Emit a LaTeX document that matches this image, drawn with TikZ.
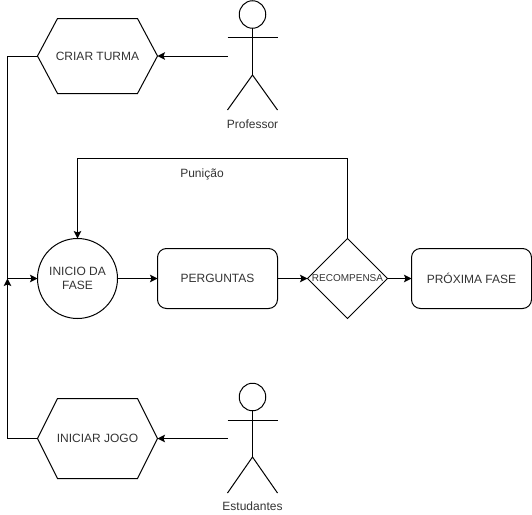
\documentclass[tikz,border=0pt]{standalone}
\usepackage{fontspec}
\setmainfont{Liberation Sans}
\usetikzlibrary{arrows.meta,shapes.geometric}
\tikzset{
  x=1pt,y=-1pt,
  every node/.style={font=\fontsize{12}{14}\selectfont,text=black!80,inner sep=0pt,outer sep=0pt},
  ln/.style={draw=black,line width=1pt},
  arr/.style={ln,-{Stealth[length=7.5pt,width=7.5pt,inset=1.5pt]}},
  hexbox/.style={rectangle,minimum width=120pt,minimum height=75pt},
  hexboxb/.style={rectangle,minimum width=120pt,minimum height=80pt},
  roundbox/.style={ln,rectangle,rounded corners=9pt,minimum width=120pt,minimum height=60pt},
  actorbox/.style={rectangle,minimum width=50pt,minimum height=110pt},
  actorhead/.style={ln,ellipse,minimum width=26.5pt,minimum height=27.5pt},
  actorlabel/.style={font=\fontsize{12}{14}\selectfont}
}
\begin{document}
\begin{tikzpicture}
\useasboundingbox (0,0) rectangle (532,514);
% hexagons
\node[hexbox] (criar) at (97.5,56) {CRIAR TURMA};
\node[hexboxb] (iniciar) at (97.5,438.5) {INICIAR JOGO};
\draw[ln] (criar.west) -- ([xshift=20pt]criar.north west) -- ([xshift=-20pt]criar.north east) -- (criar.east) -- ([xshift=-20pt]criar.south east) -- ([xshift=20pt]criar.south west) -- cycle;
\draw[ln] (iniciar.west) -- ([xshift=20pt]iniciar.north west) -- ([xshift=-20pt]iniciar.north east) -- (iniciar.east) -- ([xshift=-20pt]iniciar.south east) -- ([xshift=20pt]iniciar.south west) -- cycle;
% flow nodes
\node[ln,circle,minimum size=80pt,align=center,font=\fontsize{12}{14.5}\selectfont] (inicio) at (77.5,278.5) {INICIO DA\\FASE};
\node[roundbox] (perg) at (217.5,278.5) {PERGUNTAS};
\node[ln,diamond,aspect=1,minimum size=80pt,label={[font=\fontsize{10}{12}\selectfont]center:RECOMPENSA}] (rec) at (347.5,278.5) {};
\node[roundbox] (prox) at (471.5,278.5) {PRÓXIMA FASE};
% actors
\node[actorbox] (prof) at (252.5,56) {};
\node[actorhead] (profh) at (252.5,14.5) {};
\node[actorlabel] (profl) at (252.5,124.5) {Professor};
\coordinate (profb) at (252.5,75);
\draw[ln] (profh.south) -- (profb);
\draw[ln] (227.5,37.5) -- (277.5,37.5);
\draw[ln] (227.5,110) -- (profb) -- (277.5,110);
\node[actorbox] (est) at (252.5,438.5) {};
\node[actorhead] (esth) at (252.5,397) {};
\node[actorlabel] (estl) at (252.5,506.5) {Estudantes};
\coordinate (estb) at (252.5,457);
\draw[ln] (esth.south) -- (estb);
\draw[ln] (227.5,420) -- (277.5,420);
\draw[ln] (227.5,493) -- (estb) -- (277.5,493);
% connectors
\coordinate (j) at (7.5,278.5);
\coordinate (fb) at (347.5,158.5);
\draw[arr] (prof.west) -- (criar.east);
\draw[arr] (est.west) -- (iniciar.east);
\draw[ln] (criar.west) -| (j);
\draw[arr] (j) -- (inicio.west);
\draw[arr] (iniciar.west) -| (j);
\draw[arr] (inicio.east) -- (perg.west);
\draw[arr] (perg.east) -- (rec.west);
\draw[arr] (rec.east) -- (prox.west);
\draw[arr] (rec.north) -- (fb) -| (inicio.north);
\node (pun) at (202,174) {Punição};
\end{tikzpicture}
\end{document}
